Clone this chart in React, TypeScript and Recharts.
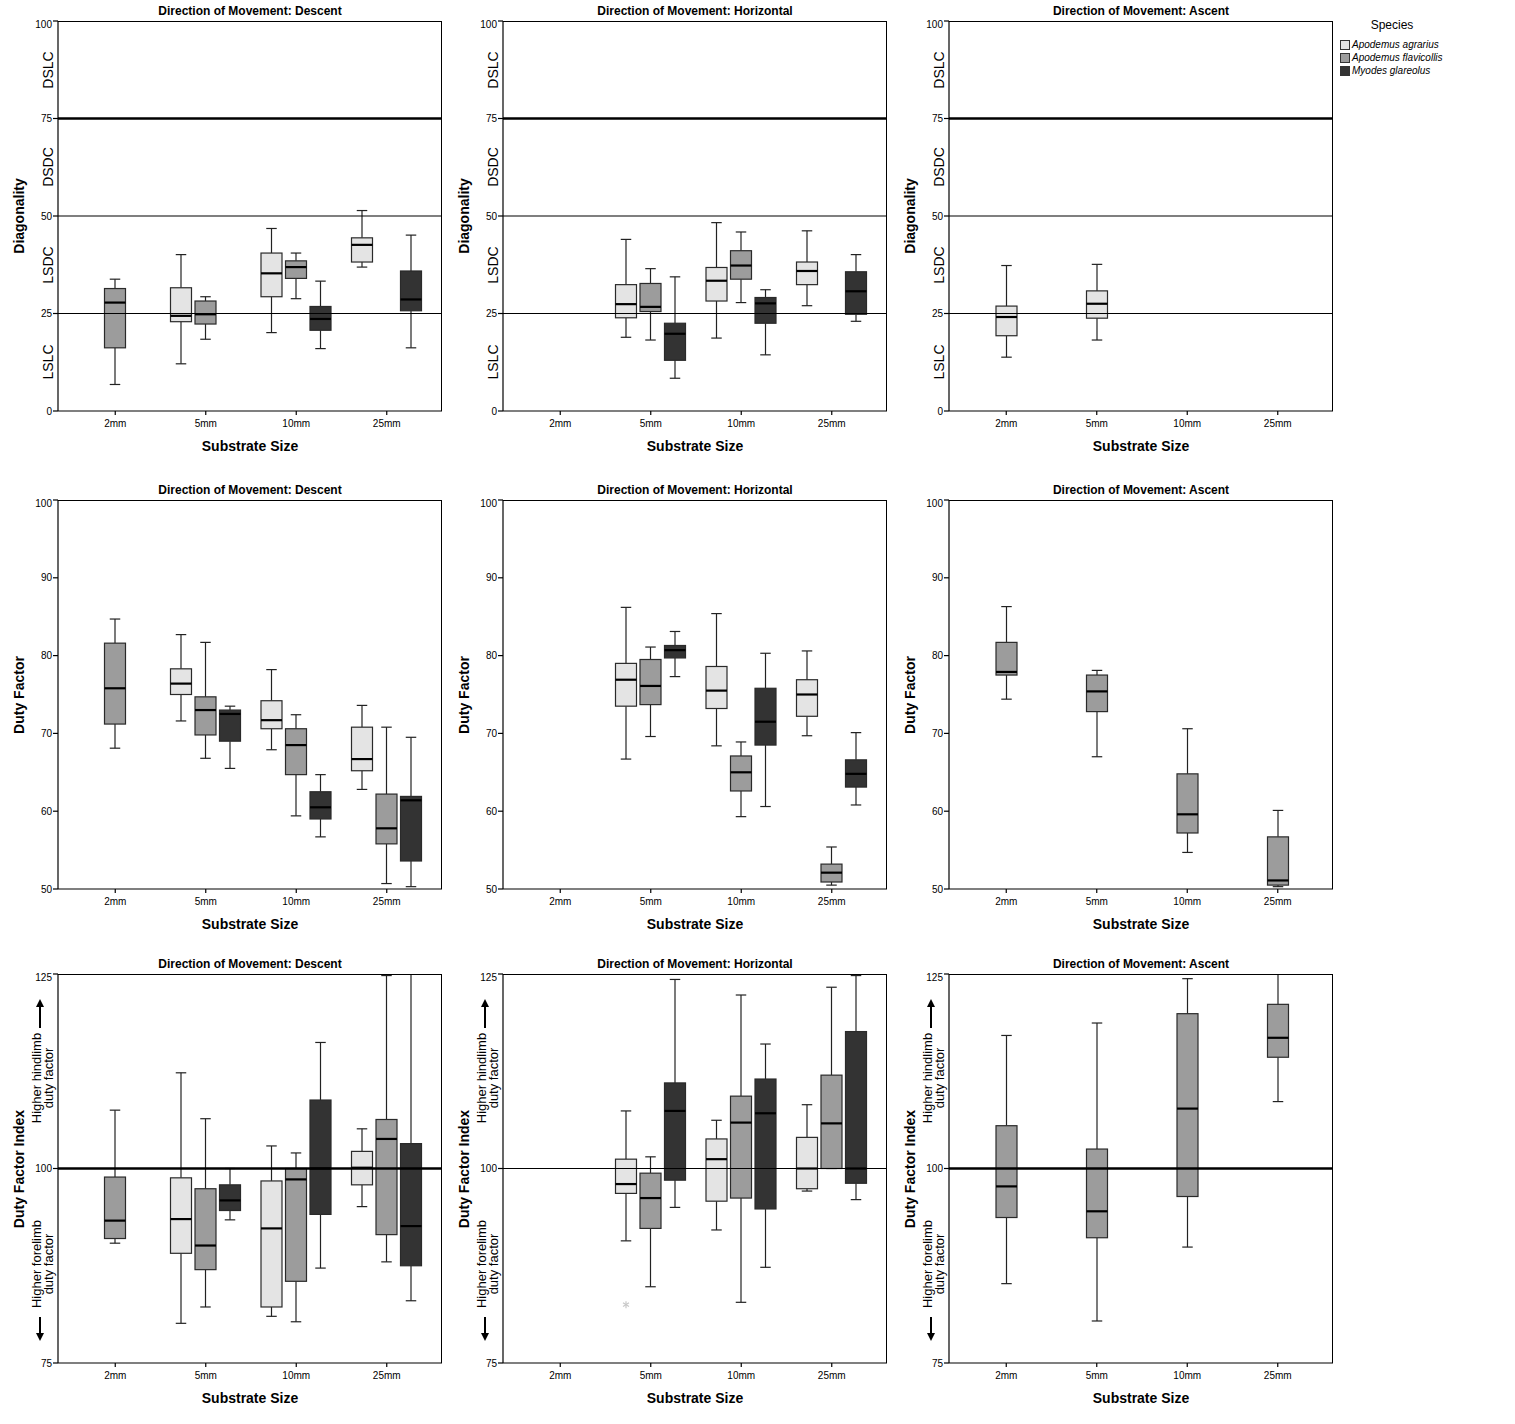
import React from 'react';
import { ComposedChart, Bar, XAxis, YAxis, ReferenceLine } from 'recharts';

const FONT = '"Liberation Sans", Arial, Helvetica, sans-serif';

const categories = ['2mm', '5mm', '10mm', '25mm'];
const speciesNames = ['Apodemus agrarius', 'Apodemus flavicollis', 'Myodes glareolus'];
const speciesFill = ['#e4e4e4', '#9c9c9c', '#333333'];

// each entry: [min, q1, median, q3, max] per substrate size
const diagDescAgr = [null, [12.1, 22.9, 24.4, 31.6, 40.1], [20.1, 29.3, 35.3, 40.5, 46.8], [36.9, 38.2, 42.6, 44.4, 51.4]];
const diagDescFla = [[6.8, 16.2, 27.8, 31.4, 33.8], [18.4, 22.3, 24.8, 28.2, 29.3], [28.8, 34.0, 36.9, 38.5, 40.5], null];
const diagDescMyo = [null, null, [16.0, 20.7, 23.6, 26.8, 33.3], [16.2, 25.7, 28.6, 35.9, 45.1]];
const diagHorAgr = [null, [18.9, 23.9, 27.4, 32.4, 44.0], [18.7, 28.2, 33.4, 36.8, 48.3], [27.0, 32.4, 35.9, 38.2, 46.2]];
const diagHorFla = [null, [18.2, 25.5, 26.7, 32.7, 36.5], [27.8, 33.8, 37.3, 41.1, 45.9], null];
const diagHorMyo = [null, [8.4, 13.0, 19.8, 22.5, 34.4], [14.4, 22.5, 27.6, 29.1, 31.1], [23.0, 24.8, 30.7, 35.7, 40.1]];
const diagAscAgr = [[13.8, 19.3, 24.1, 26.9, 37.3], [18.2, 23.8, 27.5, 30.8, 37.6], null, null];

const dfDescAgr = [null, [71.6, 75.0, 76.4, 78.3, 82.7], [67.9, 70.6, 71.7, 74.2, 78.2], [62.8, 65.2, 66.7, 70.8, 73.6]];
const dfDescFla = [[68.1, 71.2, 75.8, 81.6, 84.7], [66.8, 69.8, 73.0, 74.7, 81.7], [59.4, 64.7, 68.5, 70.6, 72.4], [50.7, 55.8, 57.8, 62.2, 70.8]];
const dfDescMyo = [null, [65.5, 69.0, 72.5, 73.0, 73.5], [56.7, 59.0, 60.5, 62.5, 64.7], [50.3, 53.6, 61.4, 61.9, 69.5]];
const dfHorAgr = [null, [66.7, 73.5, 76.9, 79.0, 86.2], [68.4, 73.2, 75.5, 78.6, 85.4], [69.7, 72.2, 75.0, 76.9, 80.6]];
const dfHorFla = [null, [69.6, 73.7, 76.1, 79.5, 81.1], [59.3, 62.6, 65.0, 67.1, 68.9], [50.5, 50.9, 52.1, 53.2, 55.4]];
const dfHorMyo = [null, [77.3, 79.7, 80.7, 81.3, 83.1], [60.6, 68.5, 71.5, 75.8, 80.3], [60.8, 63.1, 64.8, 66.6, 70.1]];
const dfAscFla = [[74.4, 77.5, 77.9, 81.7, 86.3], [67.0, 72.8, 75.4, 77.5, 78.1], [54.7, 57.2, 59.6, 64.8, 70.6], [50.3, 50.5, 51.1, 56.7, 60.1]];

const dfiDescAgr = [null, [80.1, 89.1, 93.5, 98.8, 112.3], [81.0, 82.2, 92.3, 98.4, 102.9], [95.1, 97.9, 100.1, 102.2, 105.1]];
const dfiDescFla = [[90.4, 91.0, 93.3, 98.9, 107.5], [82.2, 87.0, 90.1, 97.4, 106.4], [80.3, 85.5, 98.6, 100.0, 102.0], [88.0, 91.5, 103.8, 106.3, 124.8]];
const dfiDescMyo = [null, [93.4, 94.6, 95.9, 97.9, 100.0], [87.2, 94.1, 100.0, 108.8, 116.2], [83.0, 87.5, 92.6, 103.2, 125.0]];
const dfiHorAgr = [null, [90.7, 96.8, 98.0, 101.2, 107.4], [92.1, 95.8, 101.2, 103.8, 106.2], [97.1, 97.4, 100.0, 104.0, 108.2]];
const dfiHorFla = [null, [84.8, 92.3, 96.2, 99.4, 101.5], [82.8, 96.2, 105.9, 109.3, 122.3], [100.0, 100.0, 105.8, 112.0, 123.3]];
const dfiHorMyo = [null, [95.0, 98.5, 107.4, 111.0, 124.3], [87.3, 94.8, 107.1, 111.5, 116.0], [96.0, 98.1, 100.0, 117.6, 124.8]];
const dfiHorAgrOutliers = [null, [82.5], null, null];
const dfiAscFla = [[85.2, 93.7, 97.7, 105.5, 117.1], [80.4, 91.1, 94.5, 102.5, 118.7], [89.9, 96.4, 107.7, 119.9, 124.4], [108.6, 114.3, 116.8, 121.1, 125.0]];

const diagTicks = [0, 25, 50, 75, 100];
const dfTicks = [50, 60, 70, 80, 90, 100];
const dfiTicks = [75, 100, 125];
const diagZones = [['DSLC', 87.5], ['DSDC', 62.5], ['LSDC', 37.5], ['LSLC', 12.5]];

type Box = number[] | null;

interface Panel {
  row: number;
  col: number;
  title: string;
  yLabel: string;
  domain: [number, number];
  ticks: number[];
  series: (Box[] | null)[];
  outliers?: (Box[] | null)[];
  refs: [number, number][];
}

const panels: Panel[] = [
  { row: 0, col: 0, title: 'Direction of Movement: Descent', yLabel: 'Diagonality', domain: [0, 100], ticks: diagTicks, series: [diagDescAgr, diagDescFla, diagDescMyo], refs: [[75, 2.5], [50, 1.2], [25, 1.2]] },
  { row: 0, col: 1, title: 'Direction of Movement: Horizontal', yLabel: 'Diagonality', domain: [0, 100], ticks: diagTicks, series: [diagHorAgr, diagHorFla, diagHorMyo], refs: [[75, 2.5], [50, 1.2], [25, 1.2]] },
  { row: 0, col: 2, title: 'Direction of Movement: Ascent', yLabel: 'Diagonality', domain: [0, 100], ticks: diagTicks, series: [diagAscAgr, null, null], refs: [[75, 2.5], [50, 1.2], [25, 1.2]] },
  { row: 1, col: 0, title: 'Direction of Movement: Descent', yLabel: 'Duty Factor', domain: [50, 100], ticks: dfTicks, series: [dfDescAgr, dfDescFla, dfDescMyo], refs: [] },
  { row: 1, col: 1, title: 'Direction of Movement: Horizontal', yLabel: 'Duty Factor', domain: [50, 100], ticks: dfTicks, series: [dfHorAgr, dfHorFla, dfHorMyo], refs: [] },
  { row: 1, col: 2, title: 'Direction of Movement: Ascent', yLabel: 'Duty Factor', domain: [50, 100], ticks: dfTicks, series: [null, dfAscFla, null], refs: [] },
  { row: 2, col: 0, title: 'Direction of Movement: Descent', yLabel: 'Duty Factor Index', domain: [75, 125], ticks: dfiTicks, series: [dfiDescAgr, dfiDescFla, dfiDescMyo], refs: [[100, 2.5]] },
  { row: 2, col: 1, title: 'Direction of Movement: Horizontal', yLabel: 'Duty Factor Index', domain: [75, 125], ticks: dfiTicks, series: [dfiHorAgr, dfiHorFla, dfiHorMyo], outliers: [dfiHorAgrOutliers, null, null], refs: [[100, 1.2]] },
  { row: 2, col: 2, title: 'Direction of Movement: Ascent', yLabel: 'Duty Factor Index', domain: [75, 125], ticks: dfiTicks, series: [null, dfiAscFla, null], refs: [[100, 2.5]] },
];

const colLeft = [58, 503, 949];
const rowTop = [21, 500, 974];
const rowH = [390, 389, 389];
const PLOT_W = 384;
const AXIS_W = 58;
const XAXIS_H = 26;

function BoxShape(props: any) {
  const { x, y, width, height, payload, idx, fill } = props;
  const box: Box = payload ? payload[`s${idx}`] : null;
  if (!box) return <g />;
  const [mn, q1, md, q3, mx] = box;
  const top = Math.min(y, y + height);
  const bot = Math.max(y, y + height);
  const py = (v: number) => (mx === mn ? top : top + ((bot - top) * (mx - v)) / (mx - mn));
  const cx = x + width / 2;
  const cap = width / 4;
  const outs: number[] = payload[`o${idx}`] || [];
  const st = '#222';
  return (
    <g>
      <line x1={cx} x2={cx} y1={py(mx)} y2={py(q3)} stroke={st} strokeWidth={1.2} />
      <line x1={cx} x2={cx} y1={py(q1)} y2={py(mn)} stroke={st} strokeWidth={1.2} />
      <line x1={cx - cap} x2={cx + cap} y1={py(mx)} y2={py(mx)} stroke={st} strokeWidth={1.2} />
      <line x1={cx - cap} x2={cx + cap} y1={py(mn)} y2={py(mn)} stroke={st} strokeWidth={1.2} />
      <rect x={x} y={py(q3)} width={width} height={Math.max(0, py(q1) - py(q3))} fill={fill} stroke="#2a2a2a" strokeWidth={1.2} />
      <line x1={x} x2={x + width} y1={py(md)} y2={py(md)} stroke="#000" strokeWidth={2.2} />
      {outs.map((v, i) => {
        const oy = py(v);
        return (
          <g key={i} stroke="#c8c8c8" strokeWidth={1.2}>
            <line x1={cx} x2={cx} y1={oy - 3.5} y2={oy + 3.5} />
            <line x1={cx - 3} x2={cx + 3} y1={oy - 1.8} y2={oy + 1.8} />
            <line x1={cx - 3} x2={cx + 3} y1={oy + 1.8} y2={oy - 1.8} />
          </g>
        );
      })}
    </g>
  );
}

function VText({ x, y, size, bold, children, lineHeight }: any) {
  return (
    <div
      style={{
        position: 'absolute',
        left: x,
        top: y,
        transform: 'translate(-50%, -50%) rotate(-90deg)',
        whiteSpace: 'nowrap',
        fontFamily: FONT,
        fontSize: size,
        fontWeight: bold ? 'bold' : 'normal',
        lineHeight: lineHeight ? `${lineHeight}px` : 'normal',
        textAlign: 'center',
        color: '#000',
      }}
    >
      {children}
    </div>
  );
}

function PanelChart({ p }: { p: Panel }) {
  const left = colLeft[p.col];
  const top = rowTop[p.row];
  const h = rowH[p.row];
  const rows = categories.map((cat, i) => {
    const r: any = { cat };
    p.series.forEach((s, k) => {
      r[`s${k}`] = s ? s[i] : null;
      const o = p.outliers ? p.outliers[k] : null;
      r[`o${k}`] = o ? o[i] : null;
    });
    return r;
  });
  const [dMin, dMax] = p.domain;
  const valY = (v: number) => top + (h * (dMax - v)) / (dMax - dMin);
  const tickStyle = { fontSize: 10, fill: '#000', fontFamily: FONT };
  const pad = { left: 12, right: 10 };

  return (
    <>
      <div style={{ position: 'absolute', left: left - AXIS_W, top: top - 2 }}>
        <ComposedChart
          width={AXIS_W + PLOT_W + 2}
          height={2 + h + XAXIS_H}
          data={rows}
          margin={{ top: 2, right: 2, bottom: 0, left: 0 }}
          barSize={21}
          barGap={3.5}
        >
          <XAxis
            dataKey="cat"
            height={XAXIS_H}
            padding={pad}
            tick={tickStyle}
            tickSize={4}
            tickMargin={5}
            axisLine={{ stroke: '#000', strokeWidth: 1.2 }}
            tickLine={{ stroke: '#000', strokeWidth: 1.2 }}
          />
          <YAxis
            type="number"
            domain={p.domain}
            ticks={p.ticks}
            allowDataOverflow
            width={AXIS_W}
            tick={tickStyle}
            tickSize={5}
            tickMargin={1}
            axisLine={{ stroke: '#000', strokeWidth: 1.2 }}
            tickLine={{ stroke: '#000', strokeWidth: 1.2 }}
          />
          {p.series.map((s, k) =>
            s ? (
              <Bar
                key={k}
                dataKey={(r: any) => (r[`s${k}`] ? [r[`s${k}`][0], r[`s${k}`][4]] : null)}
                fill={speciesFill[k]}
                isAnimationActive={false}
                shape={(props: any) => <BoxShape {...props} idx={k} fill={speciesFill[k]} />}
              />
            ) : null,
          )}
          {p.refs.map(([v, w]) => (
            <ReferenceLine key={v} y={v} stroke="#000" strokeWidth={w} />
          ))}
        </ComposedChart>
      </div>
      <div
        style={{
          position: 'absolute',
          left,
          top,
          width: PLOT_W,
          height: h,
          boxSizing: 'border-box',
          borderTop: '1px solid #000',
          borderRight: '1px solid #000',
          pointerEvents: 'none',
        }}
      />
      <div
        style={{
          position: 'absolute',
          left,
          top: top - 16,
          width: PLOT_W,
          textAlign: 'center',
          fontFamily: FONT,
          fontSize: 12,
          fontWeight: 'bold',
          lineHeight: '12px',
        }}
      >
        {p.title}
      </div>
      <div
        style={{
          position: 'absolute',
          left,
          top: top + h + 27,
          width: PLOT_W,
          textAlign: 'center',
          fontFamily: FONT,
          fontSize: 14,
          fontWeight: 'bold',
          lineHeight: '16px',
        }}
      >
        Substrate Size
      </div>
      <VText x={left - 39} y={top + h / 2} size={14} bold>
        {p.yLabel}
      </VText>
      {p.row === 0 &&
        diagZones.map(([name, v]) => (
          <VText key={name as string} x={left - 10} y={valY(v as number)} size={14}>
            {name}
          </VText>
        ))}
      {p.row === 2 && (
        <>
          <VText x={left - 15} y={valY(111.6)} size={13} lineHeight={12}>
            Higher hindlimb
            <br />
            duty factor
          </VText>
          <VText x={left - 15} y={valY(87.7)} size={13} lineHeight={12}>
            Higher forelimb
            <br />
            duty factor
          </VText>
          <svg
            style={{ position: 'absolute', left: left - 24, top: valY(121.6) - 1, overflow: 'visible' }}
            width={12}
            height={30}
          >
            <line x1={6} x2={6} y1={6} y2={29} stroke="#000" strokeWidth={2} />
            <polygon points="2,8 10,8 6,0" fill="#000" />
          </svg>
          <svg
            style={{ position: 'absolute', left: left - 24, top: valY(80.9), overflow: 'visible' }}
            width={12}
            height={30}
          >
            <line x1={6} x2={6} y1={0} y2={17} stroke="#000" strokeWidth={2} />
            <polygon points="2,16 10,16 6,24" fill="#000" />
          </svg>
        </>
      )}
    </>
  );
}

function SpeciesLegend() {
  return (
    <div style={{ position: 'absolute', left: 1340, top: 18, fontFamily: FONT }}>
      <div style={{ position: 'absolute', left: 30, top: 0, width: 44, textAlign: 'center', fontSize: 12, lineHeight: '14px' }}>
        Species
      </div>
      {speciesNames.map((n, i) => (
        <div key={n} style={{ position: 'absolute', left: 0, top: 21 + i * 13, display: 'flex', alignItems: 'center', whiteSpace: 'nowrap' }}>
          <div style={{ width: 8, height: 8, background: speciesFill[i], border: '1px solid #333', marginRight: 2 }} />
          <span style={{ fontSize: 10, fontStyle: 'italic', lineHeight: '12px' }}>{n}</span>
        </div>
      ))}
    </div>
  );
}

export default function App() {
  return (
    <div style={{ position: 'absolute', left: 0, top: 0, width: 1515, height: 1424, background: '#fff' }}>
      {panels.map((p) => (
        <PanelChart key={`${p.row}-${p.col}`} p={p} />
      ))}
      <SpeciesLegend />
    </div>
  );
}
